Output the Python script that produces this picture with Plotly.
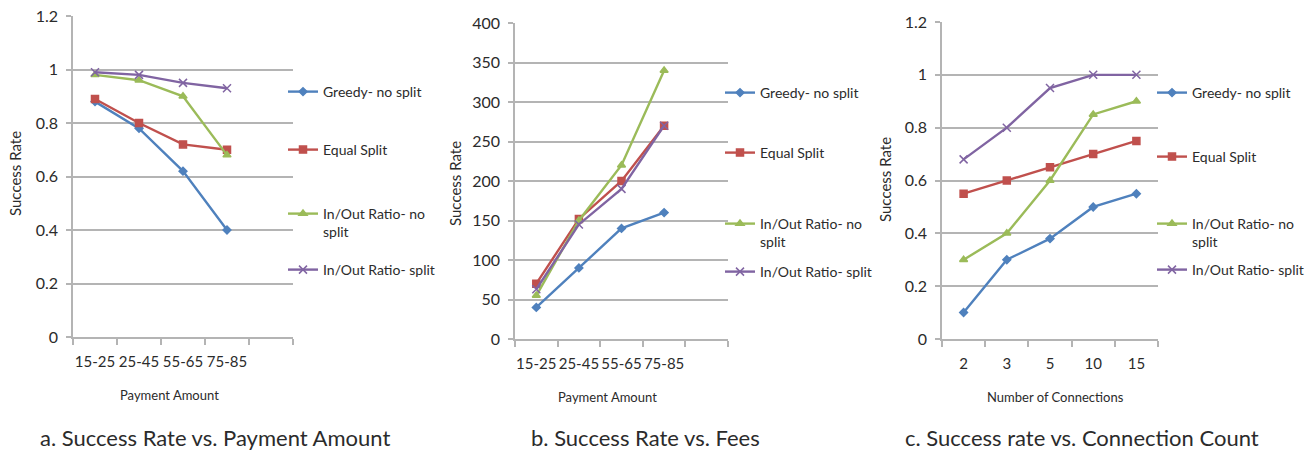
import plotly.graph_objects as go

# ---- data ----
amount_cats = ["15-25", "25-45", "55-65", "75-85"]
conn_cats = ["2", "3", "5", "10", "15"]
series_names = ["Greedy- no split", "Equal Split", "In/Out Ratio- no<br>split", "In/Out Ratio- split"]

# a. success rate vs payment amount
a_greedy = [0.88, 0.78, 0.62, 0.40]
a_equal = [0.89, 0.80, 0.72, 0.70]
a_ratio_nosplit = [0.98, 0.96, 0.90, 0.68]
a_ratio_split = [0.99, 0.98, 0.95, 0.93]

# b. success rate vs fees
b_greedy = [40, 90, 140, 160]
b_equal = [70, 152, 200, 270]
b_ratio_nosplit = [55, 150, 220, 340]
b_ratio_split = [63, 145, 190, 270]

# c. success rate vs connection count
c_greedy = [0.10, 0.30, 0.38, 0.50, 0.55]
c_equal = [0.55, 0.60, 0.65, 0.70, 0.75]
c_ratio_nosplit = [0.30, 0.40, 0.60, 0.85, 0.90]
c_ratio_split = [0.68, 0.80, 0.95, 1.00, 1.00]

captions = ["a. Success Rate vs. Payment Amount", "b. Success Rate vs. Fees",
            "c. Success rate vs. Connection Count"]
x_titles = ["Payment Amount", "Payment Amount", "Number of Connections"]
y_title = "Success Rate"

# ---- styling ----
W, H = 1316, 453
FONT = "Lato, Roboto, sans-serif"
TXT = "#2b2b2b"
GRID = "#b4b4b4"
colors = ["#4F81BD", "#C0504D", "#9BBB59", "#8064A2"]
symbols = ["diamond", "square", "triangle-up", "x-thin-open"]
msizes = [6, 7, 7, 8]


def px_x(x):
    return x / W


def px_y(y):
    return 1 - y / H


panels = [
    dict(cats=amount_cats, extra=True, series=[a_greedy, a_equal, a_ratio_nosplit, a_ratio_split],
         xdom=(73, 293), ydom=(16, 337), yrange=[0, 1.2], dtick=0.2,
         legend_x=283, legend_y=[92, 150, 209, 270],
         ytitle=(15, 174), xtitle=(169, 395), caption=215),
    dict(cats=amount_cats, extra=True, series=[b_greedy, b_equal, b_ratio_nosplit, b_ratio_split],
         xdom=(515, 728), ydom=(23, 339), yrange=[0, 400], dtick=50,
         legend_x=720, legend_y=[93, 153, 219, 272],
         ytitle=(455, 184), xtitle=(607, 397), caption=645),
    dict(cats=conn_cats, extra=False, series=[c_greedy, c_equal, c_ratio_nosplit, c_ratio_split],
         xdom=(942, 1158), ydom=(22, 339), yrange=[0, 1.2], dtick=0.2,
         legend_x=1152, legend_y=[93, 157, 219, 270],
         ytitle=(885, 180), xtitle=(1055, 397), caption=1082),
]

fig = go.Figure()
layout = dict(
    template="none",
    width=W, height=H, margin=dict(l=0, r=0, t=0, b=0, pad=0),
    paper_bgcolor="white", plot_bgcolor="white", showlegend=True,
    font=dict(family=FONT, color=TXT),
)
annotations = []
leg_n = 0

for p_i, p in enumerate(panels):
    sfx = "" if p_i == 0 else str(p_i + 1)
    xa, ya = "x" + sfx, "y" + sfx
    cat_order = p["cats"] + ([" "] if p["extra"] else [])
    for s_i, vals in enumerate(p["series"]):
        leg_n += 1
        lkey = "legend" if leg_n == 1 else f"legend{leg_n}"
        fig.add_trace(go.Scatter(
            x=p["cats"], y=vals, name=series_names[s_i], mode="lines+markers",
            xaxis=xa, yaxis=ya, legend=lkey,
            line=dict(color=colors[s_i], width=2.4),
            marker=dict(symbol=symbols[s_i], size=msizes[s_i], color=colors[s_i],
                        line=dict(color=colors[s_i], width=1.5)),
        ))
        layout[lkey] = dict(
            x=px_x(p["legend_x"]), xanchor="left", valign="top",
            bgcolor="rgba(0,0,0,0)", borderwidth=0,
            font=dict(family=FONT, size=14, color=TXT),
        )
        if s_i == 2:
            # two-line entry: anchor its top so the first line sits at the given height
            layout[lkey].update(y=px_y(p["legend_y"][s_i] - 11), yanchor="top")
        else:
            layout[lkey].update(y=px_y(p["legend_y"][s_i]), yanchor="middle")
    layout["xaxis" + sfx] = dict(
        domain=[px_x(p["xdom"][0]), px_x(p["xdom"][1])], anchor=ya, automargin=False,
        type="category", categoryorder="array", categoryarray=cat_order,
        range=[-0.5, len(cat_order) - 0.5], tickson="boundaries", tickangle=0,
        showgrid=False, showline=True, linecolor=GRID, linewidth=1.6,
        ticks="outside", ticklen=6, tickcolor=GRID, tickwidth=1.6,
        ticklabelstandoff=10,
        tickfont=dict(family=FONT, size=15, color=TXT), fixedrange=True,
    )
    layout["yaxis" + sfx] = dict(
        domain=[px_y(p["ydom"][1]), px_y(p["ydom"][0])], anchor=xa, automargin=False,
        range=p["yrange"], dtick=p["dtick"], showgrid=True, gridcolor=GRID, gridwidth=1.6,
        showline=True, linecolor=GRID, linewidth=1.6, zeroline=False,
        ticks="outside", ticklen=5, tickcolor=GRID, tickwidth=1.6,
        ticklabelstandoff=5,
        tickfont=dict(family=FONT, size=16, color=TXT), fixedrange=True,
    )
    annotations.append(dict(
        text=y_title, textangle=-90, xref="paper", yref="paper",
        x=px_x(p["ytitle"][0]), y=px_y(p["ytitle"][1]), xanchor="center", yanchor="middle",
        showarrow=False, font=dict(family=FONT, size=15, color=TXT)))
    annotations.append(dict(
        text=x_titles[p_i], xref="paper", yref="paper",
        x=px_x(p["xtitle"][0]), y=px_y(p["xtitle"][1]), xanchor="center", yanchor="middle",
        showarrow=False, font=dict(family=FONT, size=13, color=TXT)))
    annotations.append(dict(
        text=captions[p_i], xref="paper", yref="paper",
        x=px_x(p["caption"]), y=px_y(437), xanchor="center", yanchor="middle",
        showarrow=False, font=dict(family=FONT, size=22, color=TXT)))

layout["annotations"] = annotations
fig.update_layout(**layout)
fig.write_html("out.html")
